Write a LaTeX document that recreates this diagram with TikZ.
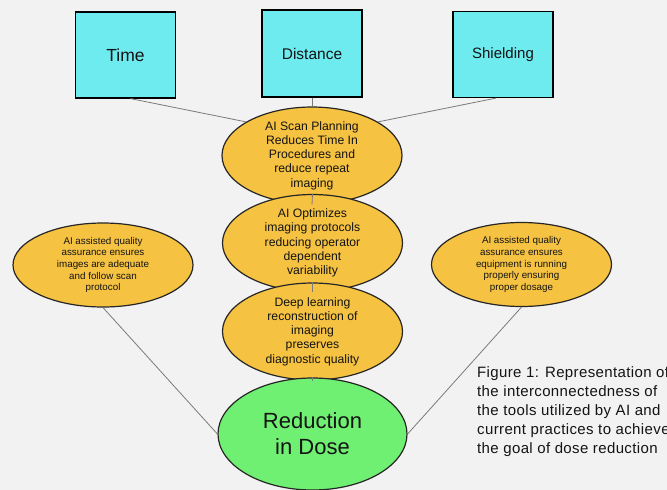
\documentclass[tikz,border=0pt]{standalone}
\usepackage{fontspec}
\setmainfont{Liberation Sans}
\newfontfamily\capfont[LetterSpace=2.5]{Liberation Sans}
\usetikzlibrary{shapes.geometric}
\definecolor{bgc}{HTML}{F2F2F2}
\definecolor{boxc}{HTML}{6EEBEF}
\definecolor{ellc}{HTML}{F5C242}
\definecolor{grnc}{HTML}{70F072}
\definecolor{linec}{HTML}{7A7A7A}
\definecolor{txtc}{HTML}{141414}
\tikzset{
  sqbox/.style={draw=black, line width=1.2pt, fill=boxc, minimum width=100pt, minimum height=86pt, inner sep=0pt, text=txtc},
  oval/.style={ellipse, draw=black!85, line width=1.2pt, fill=ellc, inner sep=0pt, align=center, text=txtc},
  midoval/.style={oval, minimum width=180pt, font=\fontsize{12.2}{14.3}\selectfont},
  sideoval/.style={oval, minimum width=180pt, minimum height=84pt, font=\fontsize{9.8}{11.7}\selectfont},
  link/.style={draw=linec, line width=0.8pt}
}
\begin{document}
\begin{tikzpicture}[x=1pt,y=-1pt]
\fill[bgc] (0,0) rectangle (667,490);
\useasboundingbox (0,0) rectangle (667,490);
\clip (0,0) rectangle (667,490);
% boxes
\node[sqbox, font=\fontsize{17.5}{20}\selectfont] (time) at (125.5,55) {Time};
\node[sqbox, minimum height=87pt, font=\fontsize{15.5}{18}\selectfont] (dist) at (312,53.5) {Distance};
\node[sqbox, font=\fontsize{15}{18}\selectfont] (shield) at (503,54.5) {Shielding};
% central ovals
\node[midoval, minimum height=77pt] (e1) at (312,155.5) {AI Scan Planning\\Reduces Time In\\Procedures and\\reduce repeat\\imaging};
\node[midoval, minimum height=82pt] (e2) at (312.5,243) {AI Optimizes\\imaging protocols\\reducing operator\\dependent\\variability};
\node[midoval, minimum height=81pt] (e3) at (312.5,331.5) {Deep learning\\reconstruction of\\imaging\\preserves\\diagnostic quality};
% side ovals
\node[sideoval] (left) at (103,265) {AI assisted quality\\assurance ensures\\images are adequate\\and follow scan\\protocol};
\node[sideoval] (right) at (521.5,264.5) {AI assisted quality\\assurance ensures\\equipment is running\\properly ensuring\\proper dosage};
% goal
\node[oval, fill=grnc, minimum width=189pt, minimum height=112pt, font=\fontsize{22}{26}\selectfont] (goal) at (312.5,434) {Reduction\\in Dose};
% caption
\node[anchor=north west, align=left, inner sep=0pt, text=txtc, font=\capfont\fontsize{15}{19}\selectfont] (cap) at (477,366) {Figure 1: Representation of\\the interconnectedness of\\the tools utilized by AI and\\current practices to achieve\\the goal of dose reduction};
% connectors
\draw[link] ([xshift=5pt]time.south) -- (e1.153);
\draw[link] (dist.south) -- (e1.north);
\draw[link] ([xshift=-7pt]shield.south) -- (e1.27);
\draw[link] (e1.south) -- (e2.north);
\draw[link] (e2.south) -- (e3.north);
\draw[link] (e3.south) -- (goal.north);
\draw[link] (left.south) -- (goal.west);
\draw[link] (right.south) -- (goal.east);
\end{tikzpicture}
\end{document}
